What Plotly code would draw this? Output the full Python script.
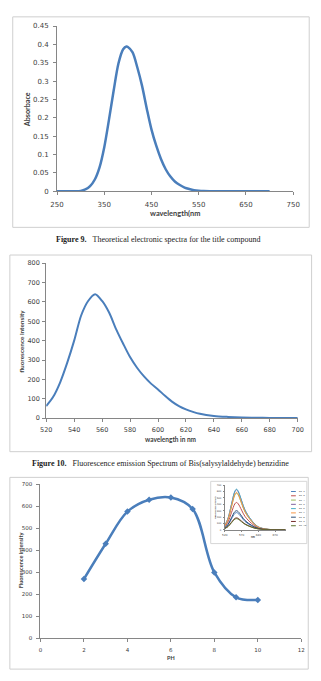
import plotly.graph_objects as go

W, H = 321, 681

# ---------------- data ----------------
# Figure 9: theoretical absorbance spectrum
abs_wl = [250, 260, 270, 280, 290, 300, 310, 320, 330, 340, 350, 360, 370, 380, 390, 397,
          400, 410, 420, 430, 440, 450, 460, 470, 480, 490, 500, 510, 520, 530, 540, 550,
          560, 580, 600, 650, 700]
abs_val = [0, 0, 0, 0, 0, 0.001, 0.005, 0.014, 0.032, 0.065, 0.12, 0.195, 0.275, 0.348,
           0.387, 0.394, 0.393, 0.378, 0.337, 0.287, 0.225, 0.168, 0.124, 0.088, 0.06, 0.04,
           0.026, 0.017, 0.01, 0.006, 0.003, 0.0015, 0.0007, 0.0002, 0, 0, 0]
abs_xticks = [250, 350, 450, 550, 650, 750]
abs_yticks = [0, 0.05, 0.1, 0.15, 0.2, 0.25, 0.3, 0.35, 0.4, 0.45]
abs_yticklabels = ["0", "0.05", "0.1", "0.15", "0.2", "0.25", "0.3", "0.35", "0.4", "0.45"]

# Figure 10: fluorescence emission spectrum
fl_wl = [520, 525, 530, 535, 540, 545, 550, 555, 560, 565, 570, 575, 580, 585, 590, 595,
         600, 605, 610, 615, 620, 625, 630, 640, 650, 660, 670, 680, 690, 700]
fl_val = [62, 110, 185, 285, 400, 530, 605, 640, 605, 545, 460, 385, 315, 260, 215, 178,
          148, 115, 85, 62, 45, 32, 22, 11, 6, 3, 2, 1, 0.5, 0.3]
fl_xticks = [520, 540, 560, 580, 600, 620, 640, 660, 680, 700]
fl_yticks = [0, 100, 200, 300, 400, 500, 600, 700, 800]

# pH dependence
ph = [2, 3, 4, 5, 6, 7, 8, 9, 10]
ph_int = [270, 430, 576, 630, 640, 588, 300, 187, 175]
ph_xticks = [0, 2, 4, 6, 8, 10, 12]
ph_yticks = [0, 100, 200, 300, 400, 500, 600, 700]

# inset: spectra at each pH
inset_wl = [520, 530, 540, 550, 555, 560, 570, 580, 600, 620, 650, 700]
inset_names = ["ph=2", "ph=3", "ph=4", "ph=5", "ph=6", "ph=7", "ph=8", "ph=9", "ph=10"]
ph2 = [27, 78, 170, 256, 270, 256, 194, 132, 62, 19, 3, 0]
ph3 = [43, 125, 271, 408, 430, 408, 310, 211, 99, 30, 4, 0]
ph4 = [58, 167, 363, 547, 576, 547, 415, 282, 132, 40, 6, 0]
ph5 = [63, 183, 397, 598, 630, 598, 454, 309, 145, 44, 6, 0]
ph6 = [64, 186, 403, 608, 640, 608, 461, 314, 147, 45, 6, 0]
ph7 = [59, 171, 370, 559, 588, 559, 423, 288, 135, 41, 6, 0]
ph8 = [30, 87, 189, 285, 300, 285, 216, 147, 69, 21, 3, 0]
ph9 = [19, 54, 118, 178, 187, 178, 135, 92, 43, 13, 2, 0]
ph10 = [18, 51, 110, 166, 175, 166, 126, 86, 40, 12, 2, 0]
inset_series = [ph2, ph3, ph4, ph5, ph6, ph7, ph8, ph9, ph10]
inset_colors = ["#4F81BD", "#C0504D", "#9BBB59", "#8064A2", "#4BACC6", "#F79646",
                "#2C4D75", "#772C2A", "#5F7530"]
inset_xticks = [520, 570, 620, 670]
inset_yticks = [0, 100, 200, 300, 400, 500, 600, 700]

# ---------------- helpers ----------------
def xd(a, b):
    return [a / W, b / W]

def yd(top, bottom):
    return [1 - bottom / H, 1 - top / H]

LINE = "#4A7EBB"
AX = "#868686"
TXT = "#404040"
TICKFONT = "DejaVu Sans"
TITLEFONT = "Lato"

fig = go.Figure()

fig.add_trace(go.Scatter(x=abs_wl, y=abs_val, mode="lines", xaxis="x", yaxis="y",
                         line=dict(color=LINE, width=2.5, shape="spline", smoothing=0.8)))
fig.add_trace(go.Scatter(x=fl_wl, y=fl_val, mode="lines", xaxis="x2", yaxis="y2",
                         line=dict(color=LINE, width=2, shape="spline", smoothing=0.8)))
fig.add_trace(go.Scatter(x=ph, y=ph_int, mode="lines+markers", xaxis="x3", yaxis="y3",
                         line=dict(color=LINE, width=2.5, shape="spline", smoothing=1.0),
                         marker=dict(symbol="diamond", size=5, color=LINE)))
for name, ser, col in zip(inset_names, inset_series, inset_colors):
    fig.add_trace(go.Scatter(x=inset_wl, y=ser, mode="lines", name=name, xaxis="x4", yaxis="y4",
                             line=dict(color=col, width=1, shape="spline", smoothing=1.0)))

def axis(dom, rng, ticks, labels=None, size=7, anchor=None, ticklen=3, standoff=3):
    d = dict(domain=dom, range=rng, tickmode="array", tickvals=ticks,
             showline=True, linecolor=AX, linewidth=1, showgrid=False, zeroline=False,
             ticks="outside", ticklen=ticklen, tickcolor=AX, ticklabelstandoff=standoff,
             tickfont=dict(family=TICKFONT, size=size, color=TXT), anchor=anchor, fixedrange=True)
    if labels is not None:
        d["ticktext"] = labels
    return d

fig.update_layout(
    width=W, height=H, margin=dict(l=0, r=0, t=0, b=0),
    paper_bgcolor="white", plot_bgcolor="rgba(0,0,0,0)", showlegend=False,
    xaxis=axis(xd(52.3, 299.3), [250, 750], abs_xticks, size=7, anchor="y", standoff=3),
    yaxis=axis(yd(22.3, 189.5), [0, 0.45], abs_yticks, abs_yticklabels, size=7, anchor="x", standoff=3),
    xaxis2=axis(xd(41, 304), [520, 700], fl_xticks, size=6.5, anchor="y2", standoff=2),
    yaxis2=axis(yd(262.3, 419), [0, 800], fl_yticks, size=6.5, anchor="x2", standoff=1),
    xaxis3=axis(xd(35, 307.7), [0, 12], ph_xticks, size=5.5, anchor="y3", standoff=3),
    yaxis3=axis(yd(486, 642), [0, 700], ph_yticks, size=5.5, anchor="x3", standoff=3),
    xaxis4=axis(xd(227.7, 292), [520, 703], inset_xticks, size=2.8, anchor="y4", ticklen=1, standoff=1),
    yaxis4=axis(yd(487, 532), [0, 700], inset_yticks, size=2.4, anchor="x4", ticklen=1, standoff=1),
)

shapes = []
for (x0, y0, x1, y1) in [(6, 13, 316, 226), (3, 254, 318.5, 453), (3, 479, 315, 673)]:
    shapes.append(dict(type="rect", xref="paper", yref="paper", x0=x0 / W, x1=x1 / W,
                       y0=1 - y1 / H, y1=1 - y0 / H, line=dict(color="#CFCFCF", width=1)))
shapes.append(dict(type="rect", xref="paper", yref="paper", x0=213 / W, x1=313.5 / W,
                   y0=1 - 546 / H, y1=1 - 483 / H, line=dict(color="#D6D6D6", width=1),
                   fillcolor="rgba(255,255,255,0)"))

annotations = []

def ann(text, x, y, size, angle=0, bold=True, family=TITLEFONT, color=TXT, xanchor="center"):
    annotations.append(dict(text=("<b>%s</b>" % text) if bold else text, x=x / W, y=1 - y / H,
                            xref="paper", yref="paper", showarrow=False, textangle=angle,
                            xanchor=xanchor, yanchor="middle",
                            font=dict(family=family, size=size, color=color)))

# axis titles
ann("Absorbace", 21.5, 107, 7.2, angle=-90)
ann("wavelength(nm", 176, 211.5, 7.4)
ann("fluorescence intensity", 15.5, 341, 6.4, angle=-90)
ann("wavelength in nm", 172, 440.5, 6.5)
ann("Fluorescence intensity", 13.5, 563, 5.6, angle=-90)
ann("PH", 172, 661.5, 5.5)
ann("Fluorescence intensity", 217.5, 509, 2.3, angle=-90)
ann("nm", 258, 539.5, 2.8)

# captions
ann("<b>Figure 9.</b>&nbsp;&nbsp;&nbsp;Theoretical electronic spectra for the title compound",
    158, 238.5, 8, bold=False, family="Liberation Serif", color="#222222")
ann("<b>Figure 10.</b>&nbsp;&nbsp;&nbsp;Fluorescence emission Spectrum of Bis(salysylaldehyde) benzidine",
    160, 465.3, 8, bold=False, family="Liberation Serif", color="#222222")

# inset legend
for i, (name, col) in enumerate(zip(inset_names, inset_colors)):
    yy = 493.3 + i * 4.33
    shapes.append(dict(type="line", xref="paper", yref="paper", x0=297 / W, x1=302 / W,
                       y0=1 - yy / H, y1=1 - yy / H, line=dict(color=col, width=1)))
    ann(name, 302.8, yy, 2.5, bold=False, xanchor="left")

fig.update_layout(shapes=shapes, annotations=annotations)

fig.write_html("out.html")
